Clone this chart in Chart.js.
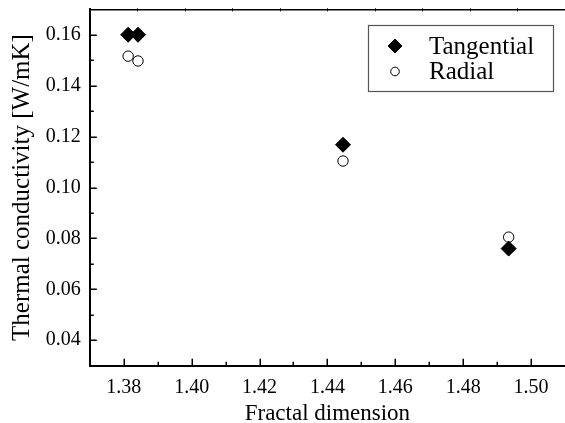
<!DOCTYPE html>
<html><head><meta charset="utf-8">
<script src="https://cdn.jsdelivr.net/npm/chart.js@4"></script>
<style>html,body{margin:0;padding:0;overflow:hidden;background:#fff}#wrap{width:565px;height:423px;position:relative}</style>
</head><body><div id="wrap"><canvas id="c" width="565" height="423"></canvas></div>
<script>
// ---- data ----
const fractalDim = [1.3813, 1.3842, 1.4446, 1.4934];
const tangential = [0.1600, 0.1600, 0.1168, 0.0760];
const radial     = [0.1516, 0.1497, 0.1104, 0.0805];
const seriesNames = ['Tangential', 'Radial'];
const xMajorTicks = [1.38, 1.40, 1.42, 1.44, 1.46, 1.48, 1.50];
const xMinorTicks = [1.39, 1.41, 1.43, 1.45, 1.47, 1.49];
const yMajorTicks = [0.04, 0.06, 0.08, 0.10, 0.12, 0.14, 0.16];
const yMinorTicks = [0.05, 0.07, 0.09, 0.11, 0.13, 0.15];
const topTicks    = [1.384, 1.398, 1.412, 1.426, 1.440, 1.454, 1.468, 1.482, 1.496];
const xTitle = 'Fractal dimension';
const yTitle = 'Thermal conductivity [W/mK]';

const FONT = '"Liberation Serif", "Times New Roman", serif';
const isMajor = (v, list) => list.some(t => Math.abs(t - v) < 1e-6);

const pts = arr => fractalDim.map((x, i) => ({x: x, y: arr[i]}));

const noPad = s => { s.paddingTop = 0; s.paddingBottom = 0; s.paddingLeft = 0; s.paddingRight = 0; };

const inwardTicks = {
  id: 'inwardTicks',
  afterDatasetsDraw(chart) {
    const ctx = chart.ctx, ca = chart.chartArea;
    const xs = chart.scales.x, ys = chart.scales.y, xt = chart.scales.x2;
    ctx.save();
    ctx.strokeStyle = '#000';
    ctx.lineWidth = 1.5;
    ctx.beginPath();
    xMajorTicks.concat(xMinorTicks).forEach(v => {
      const p = Math.round(xs.getPixelForValue(v)) + 0.25;
      const len = isMajor(v, xMajorTicks) ? 7 : 4;
      ctx.moveTo(p, ca.bottom); ctx.lineTo(p, ca.bottom - len);
    });
    yMajorTicks.concat(yMinorTicks).forEach(v => {
      const p = Math.round(ys.getPixelForValue(v)) + 0.25;
      const len = isMajor(v, yMajorTicks) ? 7 : 4;
      ctx.moveTo(ca.left, p); ctx.lineTo(ca.left + len, p);
    });
    ctx.stroke();
    ctx.lineWidth = 1;
    ctx.beginPath();
    topTicks.forEach(v => {
      const p = Math.round(xt.getPixelForValue(v)) + 0.5;
      ctx.moveTo(p, ca.top - 1); ctx.lineTo(p, ca.top + 2);
    });
    ctx.stroke();
    ctx.restore();
  }
};

const boxLegend = {
  id: 'boxLegend',
  afterDraw(chart) {
    const ctx = chart.ctx;
    const x0 = 368, y0 = 25, w = 185, h = 66;
    ctx.save();
    ctx.strokeStyle = '#555';
    ctx.lineWidth = 1.2;
    ctx.strokeRect(x0 + 0.5, y0 + 0.5, w, h);
    ctx.font = '25px ' + FONT;
    ctx.textBaseline = 'middle';
    const rows = [46, 71.5];
    chart.data.datasets.forEach((ds, i) => {
      const r = i === 0 ? 7 : 4.3;
      ctx.fillStyle = ds.backgroundColor;
      ctx.strokeStyle = '#000';
      ctx.lineWidth = 1;
      Chart.helpers.drawPoint(ctx, {pointStyle: ds.pointStyle, radius: r, borderWidth: 1, rotation: 0}, 395, rows[i]);
      ctx.fillStyle = '#000';
      ctx.fillText(ds.label, 429, rows[i] + 1);
    });
    ctx.restore();
  }
};

new Chart(document.getElementById('c'), {
  type: 'scatter',
  data: {
    datasets: [
      {label: seriesNames[0], data: pts(tangential), pointStyle: 'rectRot', pointRadius: 7.5, pointHoverRadius: 7.5,
       backgroundColor: '#000', borderColor: '#000', borderWidth: 1},
      {label: seriesNames[1], data: pts(radial), pointStyle: 'circle', pointRadius: 5.2, pointHoverRadius: 5.2,
       backgroundColor: '#fff', borderColor: '#000', borderWidth: 1}
    ]
  },
  options: {
    responsive: false,
    animation: false,
    layout: {autoPadding: false, padding: {left: 7, right: -3, top: 0, bottom: -5}},
    plugins: {legend: {display: false}, tooltip: {enabled: false}},
    scales: {
      x: {
        type: 'linear', position: 'bottom', min: 1.37, max: 1.51,
        afterBuildTicks: s => { s.ticks = xMajorTicks.map(v => ({value: v})); },
        afterFit: s => { s.height = 62.3; noPad(s); },
        grid: {display: false, drawTicks: false},
        border: {display: true, color: '#000', width: 2},
        ticks: {autoSkip: false, maxRotation: 0, color: '#000', padding: 10,
                font: {family: FONT, size: 20}, callback: v => Number(v).toFixed(2)},
        title: {display: true, text: xTitle, color: '#000', font: {family: FONT, size: 23}, padding: {top: 0, bottom: 0}}
      },
      x2: {
        type: 'linear', position: 'top', min: 1.37, max: 1.51,
        afterBuildTicks: s => { s.ticks = topTicks.map(v => ({value: v})); },
        afterFit: s => { s.height = 9.3; noPad(s); },
        grid: {display: false, drawTicks: false},
        border: {display: true, color: '#000', width: 1.5},
        ticks: {display: false}
      },
      y: {
        type: 'linear', position: 'left', min: 0.03, max: 0.17,
        afterBuildTicks: s => { s.ticks = yMajorTicks.map(v => ({value: v})); },
        afterFit: s => { s.width = 82.8; noPad(s); },
        grid: {display: false, drawTicks: false},
        border: {display: true, color: '#000', width: 2},
        ticks: {autoSkip: false, color: '#000', padding: 9,
                font: {family: FONT, size: 20}, callback: v => Number(v).toFixed(2)},
        title: {display: true, text: yTitle, color: '#000', font: {family: FONT, size: 25}, padding: {top: 0, bottom: 0}}
      }
    }
  },
  plugins: [inwardTicks, boxLegend]
});
</script>
</body></html>
